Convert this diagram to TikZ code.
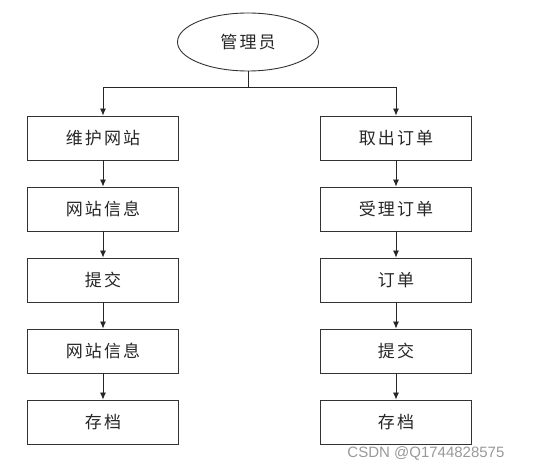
\documentclass[tikz,border=0pt]{standalone}
\usepackage{fontspec}
\newfontfamily\cjk[LetterSpace=12]{Noto Sans CJK SC}
\setsansfont{Liberation Sans}
\usetikzlibrary{shapes.geometric,positioning,arrows.meta}

\begin{document}
\begin{tikzpicture}[node distance=71pt, >={Latex[length=7pt,width=6pt]},
                    block/.style={rectangle, draw=black!80, line width=0.9pt, minimum width=151pt, minimum height=44pt,
                                  text=black!85, font=\cjk\fontsize{17}{20}\selectfont},
                    role/.style={ellipse, draw=black!80, line width=0.9pt, minimum width=141pt, minimum height=58pt,
                                 text=black!85, font=\cjk\fontsize{17}{20}\selectfont},
                    watermark/.style={text=black!40, font=\sffamily\fontsize{15}{17}\selectfont}]
  \useasboundingbox (-248pt,42pt) rectangle (303pt,-428pt);
  \node[role] (admin) {管理员};
  \node[coordinate, below of=admin, node distance=45pt] (split) {};
  % left column
  \node[block, below of=admin, node distance=96pt, xshift=-145pt] (web) {维护网站};
  \node[block, below of=web] (webinfo) {网站信息};
  \node[block, below of=webinfo] (submit) {提交};
  \node[block, below of=submit] (webinfo2) {网站信息};
  \node[block, below of=webinfo2] (archive) {存档};
  % right column
  \node[block, below of=admin, node distance=96pt, xshift=148pt] (fetch) {取出订单};
  \node[block, below of=fetch] (accept) {受理订单};
  \node[block, below of=accept] (order) {订单};
  \node[block, below of=order] (submit2) {提交};
  \node[block, below of=submit2] (archive2) {存档};
  \node[watermark, anchor=east] at (260pt,-411pt) (csdn) {CSDN @Q1744828575};
  \draw[black!85, line width=0.8pt] (admin) -- (split);
  \draw[->, black!85, line width=0.8pt] (split) -| (web);
  \draw[->, black!85, line width=0.8pt] (split) -| (fetch);
  \draw[->, black!85, line width=0.8pt] (web) -- (webinfo);
  \draw[->, black!85, line width=0.8pt] (webinfo) -- (submit);
  \draw[->, black!85, line width=0.8pt] (submit) -- (webinfo2);
  \draw[->, black!85, line width=0.8pt] (webinfo2) -- (archive);
  \draw[->, black!85, line width=0.8pt] (fetch) -- (accept);
  \draw[->, black!85, line width=0.8pt] (accept) -- (order);
  \draw[->, black!85, line width=0.8pt] (order) -- (submit2);
  \draw[->, black!85, line width=0.8pt] (submit2) -- (archive2);
\end{tikzpicture}
\end{document}
